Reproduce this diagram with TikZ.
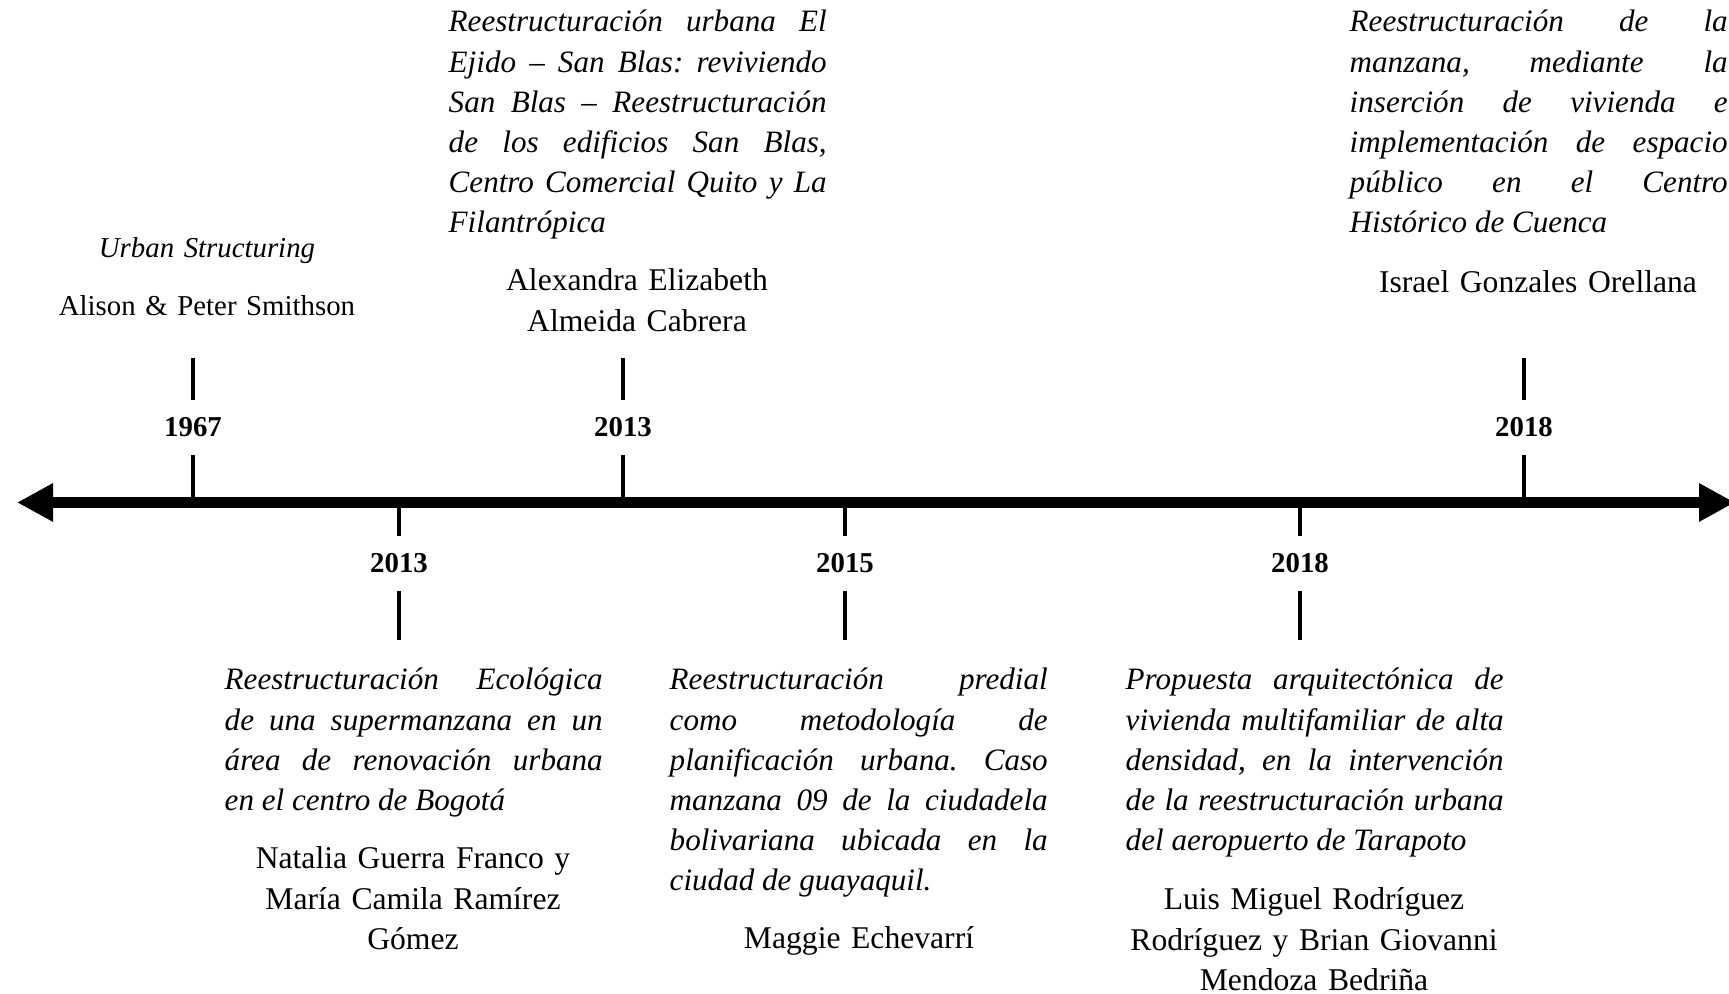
\documentclass[tikz,border=0pt]{standalone}
\usepackage{fontspec}
\setmainfont{Liberation Serif}
\usetikzlibrary{arrows.meta}
\newcommand{\bodyfont}{\fontsize{9}{11.4}\selectfont}
\newcommand{\titlefont}{\fontsize{8.85}{11.4}\selectfont\itshape\frenchspacing}

\begin{document}
\begin{tikzpicture}[
  timeline/.style={draw=black, line width=3.3pt, {Triangle[length=3.6mm,width=3.6mm]}-{Triangle[length=3.6mm,width=3.6mm]}},
  tick/.style={draw=black, line width=1.3pt},
  year/.style={font=\fontsize{8.2}{10}\selectfont\bfseries, minimum height=0.54cm, inner sep=0pt},
  title/.style={font=\titlefont, text width=3.78cm, align=justify, inner sep=0pt, anchor=base west},
  author/.style={font=\bodyfont, text width=3.78cm, align=center, inner sep=0pt, anchor=base}
]
\useasboundingbox (0,0) rectangle (17.29,9.94);

% axis
\coordinate (leftend) at (0.17,4.915);
\coordinate (rightend) at (17.35,4.915);
\draw[timeline] (leftend) -- (rightend);

% ticks above the axis
\coordinate (a1967) at (1.93,4.915);
\coordinate (a2013up) at (6.23,4.915);
\coordinate (a2018up) at (15.24,4.915);
\coordinate (e1967) at (1.93,6.36);
\coordinate (e2013up) at (6.23,6.36);
\coordinate (e2018up) at (15.24,6.36);
\node[year] (y1967) at (1.93,5.665) {1967};
\node[year] (y2013up) at (6.23,5.665) {2013};
\node[year] (y2018up) at (15.24,5.665) {2018};
\draw[tick] (y1967) -- (a1967);
\draw[tick] (y1967) -- (e1967);
\draw[tick] (y2013up) -- (a2013up);
\draw[tick] (y2013up) -- (e2013up);
\draw[tick] (y2018up) -- (a2018up);
\draw[tick] (y2018up) -- (e2018up);

% ticks below the axis
\coordinate (a2013down) at (3.99,4.915);
\coordinate (a2015) at (8.45,4.915);
\coordinate (a2018down) at (13.0,4.915);
\coordinate (e2013down) at (3.99,3.54);
\coordinate (e2015) at (8.45,3.54);
\coordinate (e2018down) at (13.0,3.54);
\node[year] (y2013down) at (3.99,4.305) {2013};
\node[year] (y2015) at (8.45,4.305) {2015};
\node[year] (y2018down) at (13.0,4.305) {2018};
\draw[tick] (y2013down) -- (a2013down);
\draw[tick] (y2013down) -- (e2013down);
\draw[tick] (y2015) -- (a2015);
\draw[tick] (y2015) -- (e2015);
\draw[tick] (y2018down) -- (a2018down);
\draw[tick] (y2018down) -- (e2018down);

% works above
\node[author, font=\fontsize{8.2}{10}\selectfont\itshape] (title1967) at (2.07,7.36) {Urban Structuring};
\node[author, font=\fontsize{8.2}{10}\selectfont] (auth1967) at (2.07,6.78) {Alison \& Peter Smithson};

\node[title] (title2013up) at (4.48,9.62) {Reestructuración urbana El\linebreak
  Ejido – San Blas: reviviendo\linebreak
  San Blas – Reestructuración\linebreak
  de los edificios San Blas,\linebreak
  Centro Comercial Quito y La\linebreak
  Filantrópica};
\node[author] (auth2013up) at (6.37,7.03) {Alexandra Elizabeth\\Almeida Cabrera};

\node[title] (title2018up) at (13.49,9.62) {Reestructuración de la\linebreak
  manzana, mediante la\linebreak
  inserción de vivienda e\linebreak
  implementación de espacio\linebreak
  público en el Centro\linebreak
  Histórico de Cuenca};
\node[author] (auth2018up) at (15.38,7.01) {Israel Gonzales Orellana};

% works below
\node[title] (title2013down) at (2.24,3.04) {Reestructuración Ecológica\linebreak
  de una supermanzana en un\linebreak
  área de renovación urbana\linebreak
  en el centro de Bogotá};
\node[author] (auth2013down) at (4.13,1.25) {Natalia Guerra Franco y\\María Camila Ramírez\\Gómez};

\node[title] (title2015) at (6.69,3.04) {Reestructuración predial\linebreak
  como metodología de\linebreak
  planificación urbana. Caso\linebreak
  manzana 09 de la ciudadela\linebreak
  bolivariana ubicada en la\linebreak
  ciudad de guayaquil.};
\node[author] (auth2015) at (8.59,0.45) {Maggie Echevarrí};

\node[title] (title2018down) at (11.25,3.04) {Propuesta arquitectónica de\linebreak
  vivienda multifamiliar de alta\linebreak
  densidad, en la intervención\linebreak
  de la reestructuración urbana\linebreak
  del aeropuerto de Tarapoto};
\node[author] (auth2018down) at (13.14,0.84) {Luis Miguel Rodríguez\\Rodríguez y Brian Giovanni\\Mendoza Bedriña};
\end{tikzpicture}
\end{document}
